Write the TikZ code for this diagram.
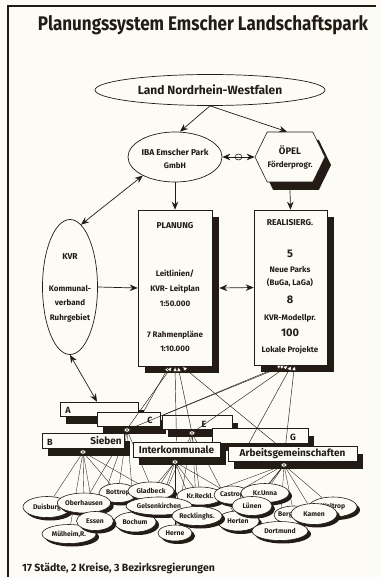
\documentclass[tikz,border=0pt]{standalone}
\usepackage{fontspec}
\usepackage{graphicx}
\setmainfont{Fira Sans}
\usetikzlibrary{shapes.geometric,shapes.symbols,arrows.meta,shadows,calc}
\pgfdeclarelayer{bg}
\pgfdeclarelayer{fg}
\pgfsetlayers{bg,main,fg}
\definecolor{ink}{RGB}{35,28,20}
\definecolor{paper}{RGB}{252,251,246}
\begin{document}
\begin{tikzpicture}[x=1pt,y=-1pt,
  every node/.style={text=ink, inner sep=0pt},
  ov/.style={draw=ink, line width=0.7pt, ellipse, fill=paper},
  arr/.style={draw=ink, line width=0.7pt, -{Stealth[length=8pt,width=6.5pt]}},
  darr/.style={draw=ink, line width=0.7pt, {Stealth[length=8pt,width=6.5pt]}-{Stealth[length=8pt,width=6.5pt]}},
  bigbox/.style={draw=ink, line width=0.6pt, fill=paper, rectangle, general shadow={fill=ink, shadow xshift=7pt, shadow yshift=-7pt}},
  grp/.style={draw=ink, line width=0.6pt, fill=paper, rectangle, general shadow={fill=ink, shadow xshift=6pt, shadow yshift=-8pt}},
  city/.style={draw=ink, line width=0.6pt, fill=paper, ellipse, font=\fontsize{6.8}{7}\selectfont\bfseries, general shadow={fill=ink, shadow xshift=3pt, shadow yshift=-3pt}},
  feed/.style={draw=ink, line width=0.45pt, {Triangle[fill=paper, length=5.5pt, width=5pt]}-},
  link/.style={draw=ink, line width=0.35pt},
  eye/.style={ellipse, draw=ink, fill=paper, line width=0.4pt, minimum width=6pt, minimum height=4pt},
  tb/.style={font=\fontsize{8}{9}\selectfont\bfseries},
  tbig/.style={font=\fontsize{11}{12}\selectfont\bfseries},
  tgrp/.style={font=\fontsize{10}{12}\selectfont\bfseries},
  tlet/.style={font=\fontsize{9}{10}\selectfont\bfseries}
]
\useasboundingbox (0,0) rectangle (381,577);
\begin{pgfonlayer}{bg}
\fill[paper] (0,0) rectangle (381,577);
\end{pgfonlayer}
\draw[ink, line width=1.3pt] (8,577) -- (8,6) -- (376,6);

% title
\node[anchor=base, font=\bfseries] (title) at (203,31) {\resizebox{330pt}{15pt}{Planungssystem Emscher Landschaftspark}};

% top level
\node[ov, minimum width=230pt, minimum height=31pt, font=\fontsize{12}{13}\selectfont\bfseries] (nrw) at (210,90) {Land Nordrhein-Westfalen};
\node[ov, minimum width=94pt, minimum height=50pt] (iba) at (175,157) {};
\node[font=\fontsize{8.5}{9}\selectfont\bfseries] (ibat1) at (175,152) {IBA Emscher Park};
\node[tb] (ibat2) at (175,166) {GmbH};

\node[signal, signal to=west and east, signal pointer angle=128, draw=ink, line width=0.6pt, fill=paper, minimum width=70pt, minimum height=50pt, general shadow={fill=ink, shadow xshift=6pt, shadow yshift=-8pt}] (opel) at (290,157) {};
\node[font=\fontsize{9.5}{10}\selectfont\bfseries] (opelt1) at (290,150) {ÖPEL};
\node[tb] (opelt2) at (290,165) {Förderprogr.};

% planning boxes
\node[bigbox, minimum width=74pt, minimum height=156pt] (plan) at (175,288) {};
\node[font=\fontsize{8.5}{9}\selectfont\bfseries] (p1) at (175,226) {PLANUNG};
\node[tb] (p2) at (175,274) {Leitlinien/};
\node[tb] (p3) at (175,289) {KVR- Leitplan};
\node[tb] (p4) at (175,304) {1:50.000};
\node[tb] (p5) at (175,335) {7 Rahmenpläne};
\node[tb] (p6) at (175,349) {1:10.000};

\node[bigbox, minimum width=73pt, minimum height=155pt] (real) at (290.5,287.5) {};
\node[font=\fontsize{8.5}{9}\selectfont\bfseries] (r1) at (290,223) {REALISIERG.};
\node[tbig] (r2) at (290,254) {5};
\node[tb] (r3) at (290,270) {Neue Parks};
\node[tb] (r4) at (290,283) {(BuGa, LaGa)};
\node[tbig] (r5) at (290,300) {8};
\node[tb] (r6) at (290,318) {KVR-Modellpr.};
\node[tbig] (r7) at (290,333) {100};
\node[tb] (r8) at (290,350) {Lokale Projekte};

\node[ov, minimum width=55pt, minimum height=135pt] (kvr) at (70,287) {};
\node[font=\fontsize{8.5}{9}\selectfont\bfseries] (k1) at (70,257) {KVR};
\node[tb] (k2) at (70,289) {Kommunal-};
\node[tb] (k3) at (70,303) {verband};
\node[tb] (k4) at (70,318) {Ruhrgebiet};

% arrows upper part
\draw[arr] (nrw.south) -- ([xshift=5pt]iba.north);
\draw[arr] (nrw.south) -- ([xshift=-3pt]opel.north);
\draw[darr] (iba.east) -- (opel.west);
\node[ellipse, draw=ink, fill=paper, line width=0.6pt, minimum width=7pt, minimum height=6pt] (mid) at ($(iba.east)!0.5!(opel.west)$) {};
\draw[ink, line width=0.6pt] (mid.west) -- (mid.east);
\draw[arr] (iba.south) -- (plan.north);
\draw[arr] ([yshift=-8pt]opel.south) -- (real.north);
\draw[arr] (kvr.east) -- (plan.west);
\draw[darr] ([xshift=7pt]plan.east) -- (real.west);
\draw[darr] (iba.210) -- (kvr.80);

% group boxes
\node[grp, minimum width=78pt, minimum height=14pt] (A) at (99,409) {};
\node[tlet] (Al) at (68,410) {A};
\node[grp, minimum width=63pt, minimum height=14pt] (C) at (128.5,419) {};
\node[tlet] (Cl) at (150,420) {C};
\node[grp, minimum width=70pt, minimum height=14pt] (E) at (197,422) {};
\node[tlet] (El) at (204,424) {E};
\node[grp, minimum width=96pt, minimum height=15pt] (G) at (260,435.5) {};
\node[tlet] (Gl) at (293,437) {G};
\node[grp, minimum width=82pt, minimum height=15pt] (B) at (83,440.5) {};
\node[tlet] (Bl) at (50,442) {B};
\node[tgrp] (Bs) at (106,441) {Sieben};
\node[grp, minimum width=87pt, minimum height=15pt, tgrp] (I) at (176.5,449.5) {Interkommunale};
\node[grp, minimum width=129pt, minimum height=15pt, tgrp] (AG) at (292.5,453.5) {Arbeitsgemeinschaften};

\draw[darr] (kvr.south) -- ([xshift=-2pt]A.north);

% markers
\begin{pgfonlayer}{fg}
\node[eye] (eyeB) at (83,452) {};
\node[eye] (eyeC) at (127,430) {};
\node[eye] (eyeE) at (192,433) {};
\node[eye] (eyeI) at (175,462) {};
\node[eye] (eyeAG) at (284,465) {};
\foreach \e in {eyeB,eyeC,eyeE,eyeI,eyeAG} \fill[ink] (\e.center) circle (0.9pt);
\end{pgfonlayer}

% feed lines from planning boxes
\draw[feed] ([xshift=-6pt]plan.south) -- ([xshift=15pt]C.north);
\draw[feed] ([xshift=-3pt]plan.south) -- (B.north east);
\draw[feed] (plan.south) -- (I.north);
\draw[feed] ([xshift=3pt]plan.south) -- (eyeE);
\draw[feed] ([xshift=7pt]plan.south) -- ([xshift=-14pt]AG.north);
\draw[feed] ([xshift=-8pt]real.south) -- (eyeC);
\draw[feed] ([xshift=-5pt]real.south) -- ([xshift=-33pt]E.north);
\draw[feed] ([xshift=-2pt]real.south) -- (eyeE);
\draw[feed] ([xshift=1pt]real.south) -- ([xshift=-45pt]AG.north);
\draw[feed] ([xshift=4pt]real.south) -- ([xshift=-7pt]AG.north);

% cities
\node[city, minimum width=46pt, minimum height=18pt] (krreck) at (200,496) {Kr.Reckl.};
\node[city, minimum width=38pt, minimum height=19pt] (bott) at (118,493) {Bottrop};
\node[city, minimum width=48pt, minimum height=21pt] (duis) at (47,507) {Duisburg};
\node[city, minimum width=48pt, minimum height=20pt] (ober) at (84,503) {Oberhausen};
\node[city, minimum width=46pt, minimum height=18pt] (glad) at (151,491) {Gladbeck};
\node[city, minimum width=42pt, minimum height=20pt] (boch) at (135,522) {Bochum};
\node[city, minimum width=54pt, minimum height=19pt] (mh) at (69,534) {Mülheim,R.};
\node[city, minimum width=37pt, minimum height=19pt] (essen) at (95,521) {Essen};
\node[city, minimum width=66pt, minimum height=18pt] (gelsen) at (159,506) {Gelsenkirchen};
\node[city, minimum width=34pt, minimum height=16pt] (herne) at (175,533) {Herne};
\node[city, minimum width=36pt, minimum height=18pt] (castrop) at (232,495) {Castrop};
\node[city, minimum width=48pt, minimum height=19pt] (unna) at (265,493) {Kr.Unna};
\node[city, minimum width=42pt, minimum height=20pt] (herten) at (238,521) {Herten};
\node[city, minimum width=50pt, minimum height=19pt] (reck) at (197,516) {Recklinghs.};
\node[city, minimum width=48pt, minimum height=20pt] (waltrop) at (333,507) {Waltrop};
\node[city, minimum width=40pt, minimum height=18pt] (berg) at (294,515) {};
\node[anchor=west, font=\fontsize{6.8}{7}\selectfont\bfseries] (bergt) at (278,515) {Bergk.};
\node[city, minimum width=40pt, minimum height=19pt] (luenen) at (252,506) {Lünen};
\node[city, minimum width=46pt, minimum height=21pt] (kamen) at (314,514) {Kamen};
\node[city, minimum width=56pt, minimum height=19pt] (dort) at (280,531) {Dortmund};

\begin{pgfonlayer}{bg}
\foreach \s/\t in {eyeB/duis, eyeB/ober, eyeB/essen, eyeB/mh, eyeB/bott, eyeB/glad,
  eyeC/ober, eyeC/bott, eyeC/essen, eyeC/gelsen, eyeC/boch,
  eyeI/glad, eyeI/gelsen, eyeI/boch, eyeI/herne, eyeI/reck, eyeI/krreck, eyeI/castrop,
  eyeE/gelsen, eyeE/herten, eyeE/reck, eyeE/krreck, eyeE/herne,
  eyeAG/castrop, eyeAG/unna, eyeAG/luenen, eyeAG/dort, eyeAG/kamen, eyeAG/waltrop, eyeAG/berg, eyeAG/herten, eyeAG/krreck}
  \draw[link] (\s) -- (\t);
\end{pgfonlayer}

\node[anchor=base west, font=\fontsize{10.5}{12}\selectfont\bfseries] (foot) at (22,571) {17 Städte, 2 Kreise, 3 Bezirksregierungen};
\end{tikzpicture}
\end{document}
